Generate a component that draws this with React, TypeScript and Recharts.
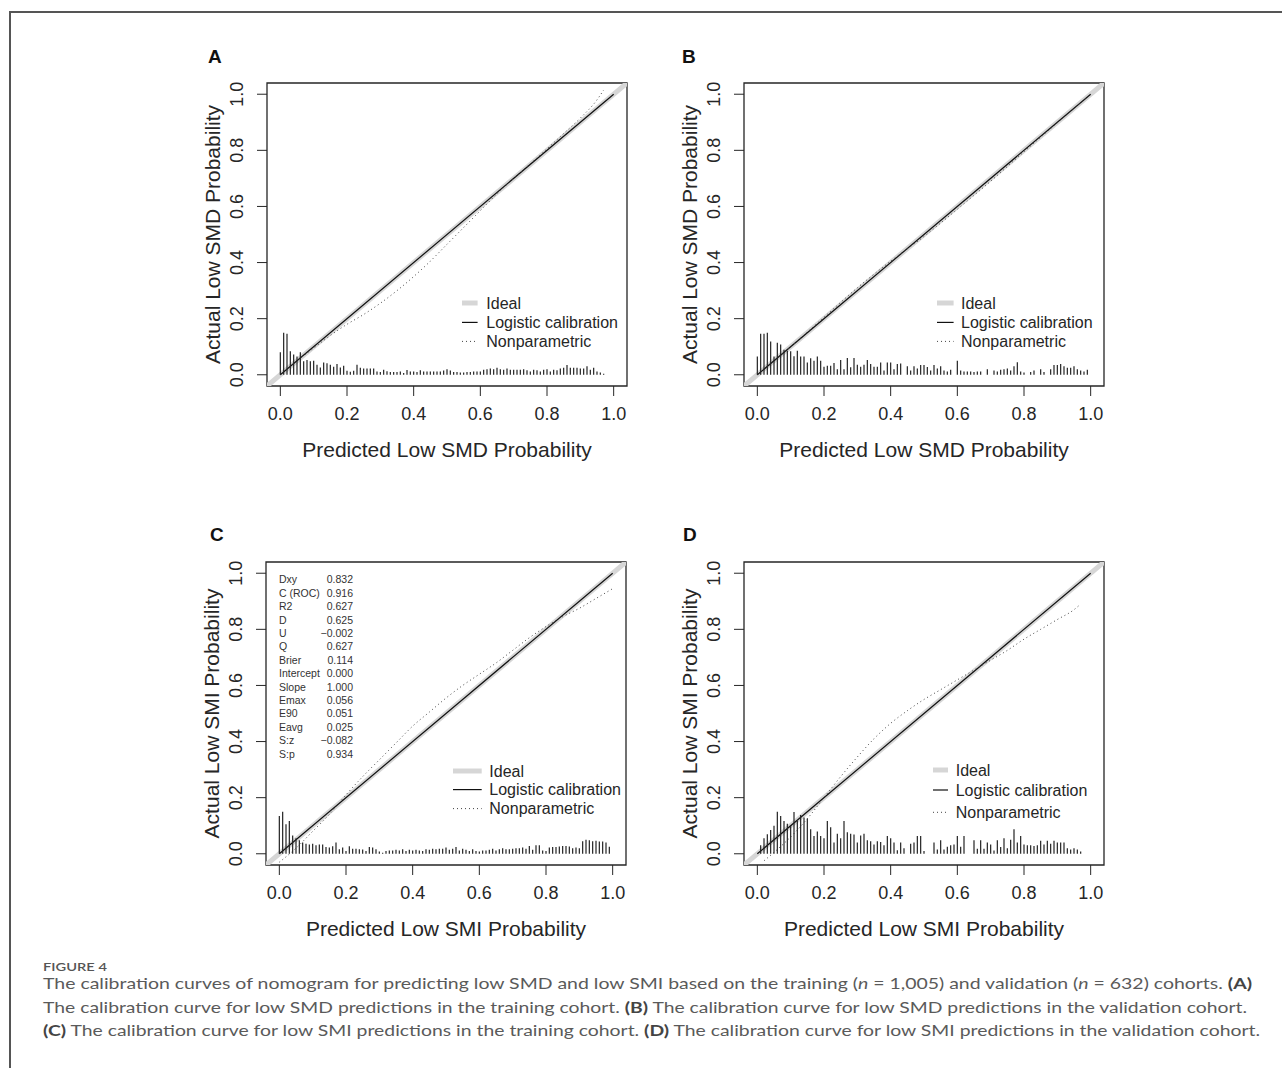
import React from "react";
import {
  ComposedChart,
  Line,
  XAxis,
  YAxis,
  ReferenceLine,
  ReferenceArea,
  Legend,
  Customized,
} from "recharts";

const FONT = "'Liberation Sans', Arial, Helvetica, sans-serif";
const INK = "#262626";

const axisTicks = [0, 0.2, 0.4, 0.6, 0.8, 1.0];
const DOMAIN: [number, number] = [-0.04, 1.04];
const BIN = 0.01; // risk distribution spikes are binned by 0.01

const legendNames = ["Ideal", "Logistic calibration", "Nonparametric"];

// ideal = abline(0, 1) across the whole plot region
const idealLine = [
  { x: -0.04, y: -0.04 },
  { x: 1.04, y: 1.04 },
];
const logisticLine = [
  { x: 0, y: 0 },
  { x: 1, y: 1 },
];

// nonparametric (lowess) curves
const smdTrainX = [0, 0.05, 0.1, 0.15, 0.2, 0.25, 0.3, 0.35, 0.4, 0.45, 0.5, 0.55, 0.6, 0.65, 0.7, 0.75, 0.8, 0.85, 0.9, 0.95, 0.97];
const smdTrainY = [0, 0.05, 0.095, 0.14, 0.18, 0.215, 0.255, 0.3, 0.35, 0.405, 0.465, 0.525, 0.585, 0.645, 0.7, 0.752, 0.805, 0.86, 0.915, 0.98, 1.015];

const smdValidX = [0, 0.1, 0.2, 0.3, 0.4, 0.5, 0.6, 0.7, 0.8, 0.9, 1.0];
const smdValidY = [0, 0.1, 0.205, 0.31, 0.405, 0.493, 0.59, 0.69, 0.795, 0.898, 1.0];

const smiTrainX = [0, 0.05, 0.1, 0.15, 0.2, 0.25, 0.3, 0.35, 0.4, 0.45, 0.5, 0.55, 0.6, 0.65, 0.7, 0.75, 0.8, 0.85, 0.9, 0.95, 1.0];
const smiTrainY = [-0.03, 0.02, 0.08, 0.14, 0.21, 0.275, 0.335, 0.395, 0.455, 0.505, 0.555, 0.6, 0.64, 0.68, 0.725, 0.77, 0.81, 0.845, 0.875, 0.91, 0.945];

const smiValidX = [0.02, 0.05, 0.1, 0.15, 0.2, 0.25, 0.3, 0.35, 0.4, 0.45, 0.5, 0.55, 0.6, 0.65, 0.7, 0.75, 0.8, 0.85, 0.9, 0.95, 0.97];
const smiValidY = [-0.025, 0.005, 0.06, 0.125, 0.2, 0.275, 0.345, 0.41, 0.465, 0.51, 0.55, 0.585, 0.62, 0.655, 0.69, 0.725, 0.765, 0.8, 0.835, 0.87, 0.89];

// spike heights from 0.00 upward in steps of 0.01
const smdTrainHist = [
  0.08, 0.15, 0.146, 0.084, 0.072, 0.065, 0.08, 0.048, 0.053, 0.048,
  0.05, 0.036, 0.026, 0.044, 0.041, 0.036, 0.029, 0.038, 0.026, 0.032,
  0.014, 0.011, 0.014, 0.036, 0.025, 0.022, 0.022, 0.022, 0.022, 0.012,
  0.01, 0.018, 0.013, 0.01, 0.01, 0.01, 0.012, 0.006, 0.017, 0.012,
  0.012, 0.01, 0.016, 0.012, 0.012, 0.012, 0.012, 0.012, 0.012, 0.015,
  0.02, 0.015, 0.01, 0.01, 0.008, 0.008, 0.01, 0.01, 0.012, 0.012,
  0.012, 0.018, 0.02, 0.022, 0.02, 0.025, 0.02, 0.018, 0.022, 0.018,
  0.018, 0.018, 0.018, 0.02, 0.016, 0.012, 0.018, 0.016, 0.012, 0.018,
  0.02, 0.012, 0.018, 0.016, 0.022, 0.025, 0.035, 0.025, 0.025, 0.025,
  0.022, 0.022, 0.03, 0.018, 0.025, 0.012, 0.008, 0.004,
];
const smdValidHist = [
  0.065, 0.146, 0.146, 0.15, 0.119, 0.065, 0.114, 0.108, 0.089, 0.086,
  0.084, 0.066, 0.086, 0.065, 0.065, 0.044, 0.059, 0.05, 0.065, 0.05,
  0.029, 0.032, 0.032, 0.042, 0.02, 0.053, 0.02, 0.06, 0.027, 0.06,
  0.036, 0.029, 0.036, 0.053, 0.038, 0.029, 0.029, 0.044, 0.015, 0.044,
  0.044, 0.02, 0.038, 0.04, 0, 0.03, 0.015, 0.03, 0.022, 0.035,
  0.035, 0.028, 0.015, 0.035, 0.022, 0.03, 0.015, 0.012, 0.018, 0,
  0.05, 0.015, 0.012, 0.012, 0.012, 0.01, 0.012, 0.012, 0, 0.02,
  0, 0.015, 0.012, 0.018, 0.02, 0.022, 0.015, 0.03, 0.045, 0.012,
  0.008, 0, 0.01, 0.015, 0, 0.02, 0.01, 0, 0.02, 0.035,
  0.035, 0.038, 0.03, 0.025, 0.025, 0.03, 0.02, 0.015, 0.012, 0.018,
];
const smiTrainHist = [
  0.135, 0.15, 0.105, 0.117, 0.065, 0.055, 0.048, 0.04, 0.036, 0.033,
  0.036, 0.03, 0.033, 0.033, 0.024, 0.022, 0.027, 0.04, 0.016, 0.022,
  0.01, 0.027, 0.018, 0.018, 0.016, 0.015, 0.01, 0.024, 0.022, 0.016,
  0.008, 0.004, 0.01, 0.012, 0.012, 0.014, 0.012, 0.016, 0.01, 0.014,
  0.012, 0.014, 0.012, 0.01, 0.016, 0.014, 0.018, 0.016, 0.018, 0.018,
  0.022, 0.014, 0.018, 0.024, 0.012, 0.018, 0.014, 0.01, 0.016, 0.01,
  0.008, 0.012, 0.012, 0.014, 0.018, 0.012, 0.016, 0.02, 0.016, 0.016,
  0.018, 0.02, 0.02, 0.022, 0.018, 0.028, 0.014, 0.03, 0.03, 0.012,
  0.01, 0.022, 0.024, 0.024, 0.026, 0.028, 0.028, 0.026, 0.02, 0.022,
  0.02, 0.045, 0.05, 0.048, 0.045, 0.046, 0.044, 0.044, 0.04, 0.025,
];
const smiValidHist = [
  0, 0.03, 0.055, 0.07, 0.085, 0.1, 0.15, 0.135, 0.117, 0.107,
  0.102, 0.149, 0.117, 0.138, 0.129, 0.126, 0.087, 0.063, 0.079, 0.063,
  0.055, 0.117, 0.095, 0.04, 0.071, 0.055, 0.117, 0.077, 0.071, 0.069,
  0.04, 0.065, 0.071, 0.048, 0.045, 0.033, 0.045, 0.042, 0.03, 0.063,
  0.055, 0.04, 0.013, 0.04, 0.02, 0, 0.036, 0.04, 0.063, 0.063,
  0.01, 0, 0, 0.04, 0.015, 0.048, 0.015, 0.025, 0.03, 0.033,
  0.063, 0.025, 0.063, 0, 0, 0.048, 0.018, 0.048, 0.018, 0.04,
  0.033, 0.012, 0.048, 0.024, 0.055, 0.02, 0.05, 0.087, 0.04, 0.063,
  0.033, 0.03, 0.03, 0.028, 0.03, 0.046, 0.033, 0.046, 0.036, 0.046,
  0.04, 0.04, 0.04, 0.02, 0.015, 0.02, 0.015, 0.008,
];

const statNames = ["Dxy", "C (ROC)", "R2", "D", "U", "Q", "Brier", "Intercept", "Slope", "Emax", "E90", "Eavg", "S:z", "S:p"];
const statValues = ["0.832", "0.916", "0.627", "0.625", "\u22120.002", "0.627", "0.114", "0.000", "1.000", "0.056", "0.051", "0.025", "\u22120.082", "0.934"];

const seriesStyle = [
  { stroke: "#d6d6d6", width: 5, dash: undefined as string | undefined },
  { stroke: "#111111", width: 1.2, dash: undefined as string | undefined },
  { stroke: "#444444", width: 1, dash: "1 3" },
];

const fmt = (v: number) => v.toFixed(1);

const YTick = (props: any) => {
  const { x, y, payload } = props;
  return (
    <text
      x={x}
      y={y}
      transform={`rotate(-90, ${x}, ${y})`}
      textAnchor="middle"
      fontSize={18}
      fontFamily={FONT}
      fill={INK}
    >
      {fmt(Number(payload.value))}
    </text>
  );
};

const XTitle = (props: any) => {
  const vb = props.viewBox && props.viewBox.width ? props.viewBox : { x: 87, y: 346, width: 360, height: 94 };
  return (
    <text x={vb.x + vb.width / 2} y={vb.y + 71} textAnchor="middle" fontSize={21} fontFamily={FONT} fill={INK}>
      {props.text}
    </text>
  );
};

const YTitle = (props: any) => {
  const vb = props.viewBox && props.viewBox.height ? props.viewBox : { x: 0, y: 43, width: 87, height: 303 };
  const cx = vb.x + 39.5;
  const cy = vb.y + vb.height / 2;
  return (
    <text x={cx} y={cy} transform={`rotate(-90, ${cx}, ${cy})`} textAnchor="middle" fontSize={21} fontFamily={FONT} fill={INK}>
      {props.text}
    </text>
  );
};

const CalibrationLegend = ({ cfg }: any) => (
  <svg width={200} height={70} style={{ display: "block", overflow: "visible" }}>
    {legendNames.map((name, i) => (
      <g key={name}>
        <line
          x1={0}
          x2={cfg.sample}
          y1={cfg.rows[i]}
          y2={cfg.rows[i]}
          stroke={seriesStyle[i].stroke}
          strokeWidth={seriesStyle[i].width}
          strokeDasharray={seriesStyle[i].dash}
        />
        <text x={cfg.textX} y={cfg.rows[i]} dominantBaseline="central" fontSize={16} fontFamily={FONT} fill={INK}>
          {name}
        </text>
      </g>
    ))}
  </svg>
);

const StatsBlock = () => (
  <g fontFamily={FONT} fontSize={10.5} fill="#333">
    {statNames.map((n, i) => (
      <g key={n}>
        <text x={100} y={64.3 + i * 13.4}>{n}</text>
        <text x={174} y={64.3 + i * 13.4} textAnchor="end">{statValues[i]}</text>
      </g>
    ))}
  </g>
);

const Panel = ({ xTitle, yTitle, hist, npX, npY, legend, stats }: any) => {
  const nonparametric = npX.map((x: number, i: number) => ({ x, y: npY[i] }));
  const spikes = hist
    .map((h: number, i: number) => ({ x: Number((i * BIN).toFixed(2)), h }))
    .filter((s: any) => s.h > 0);
  return (
    <ComposedChart width={460} height={440} margin={{ top: 43, right: 13, bottom: 0, left: 0 }}>
      <XAxis
        type="number"
        dataKey="x"
        domain={DOMAIN}
        ticks={axisTicks}
        interval={0}
        allowDataOverflow
        tickFormatter={fmt}
        axisLine={false}
        tickLine={{ stroke: INK }}
        tickSize={10}
        tickMargin={11}
        height={94}
        tick={{ fontSize: 18, fill: INK, fontFamily: FONT }}
        label={<XTitle text={xTitle} />}
      />
      <YAxis
        type="number"
        dataKey="y"
        domain={DOMAIN}
        ticks={axisTicks}
        interval={0}
        allowDataOverflow
        axisLine={false}
        tickLine={{ stroke: INK }}
        tickSize={10}
        tickMargin={14}
        width={87}
        tick={<YTick />}
        label={<YTitle text={yTitle} />}
      />
      <ReferenceArea x1={-0.04} x2={1.04} y1={-0.04} y2={1.04} fill="none" stroke={INK} strokeWidth={1.3} ifOverflow="visible" />
      <Line name={legendNames[0]} data={idealLine} dataKey="y" stroke={seriesStyle[0].stroke} strokeWidth={5} dot={false} isAnimationActive={false} />
      <Line name={legendNames[1]} data={logisticLine} dataKey="y" stroke={seriesStyle[1].stroke} strokeWidth={1.2} dot={false} isAnimationActive={false} />
      <Line
        name={legendNames[2]}
        data={nonparametric}
        type="monotone"
        dataKey="y"
        stroke={seriesStyle[2].stroke}
        strokeWidth={1}
        strokeDasharray="1 3"
        dot={false}
        isAnimationActive={false}
      />
      {spikes.map((s: any) => (
        <ReferenceLine
          key={s.x}
          segment={[
            { x: s.x, y: 0 },
            { x: s.x, y: s.h },
          ]}
          stroke="#222"
          strokeWidth={1.2}
          ifOverflow="visible"
        />
      ))}
      <Legend
        layout="vertical"
        align="center"
        verticalAlign="middle"
        wrapperStyle={{ left: legend.left, top: legend.top, width: 200 }}
        content={() => <CalibrationLegend cfg={legend} />}
      />
      {stats && <Customized component={<StatsBlock />} />}
    </ComposedChart>
  );
};

const panels = [
  {
    key: "A", left: 180, top: 40,
    xTitle: "Predicted Low SMD Probability", yTitle: "Actual Low SMD Probability",
    hist: smdTrainHist, npX: smdTrainX, npY: smdTrainY,
    legend: { left: 281.7, top: 253.3, rows: [10, 29.4, 48.4], sample: 15.6, textX: 24.3 },
  },
  {
    key: "B", left: 657, top: 40,
    xTitle: "Predicted Low SMD Probability", yTitle: "Actual Low SMD Probability",
    hist: smdValidHist, npX: smdValidX, npY: smdValidY,
    legend: { left: 279.7, top: 253.3, rows: [10, 29.4, 48.4], sample: 16.6, textX: 24 },
  },
  {
    key: "C", left: 179, top: 519, stats: true,
    xTitle: "Predicted Low SMI Probability", yTitle: "Actual Low SMI Probability",
    hist: smiTrainHist, npX: smiTrainX, npY: smiTrainY,
    legend: { left: 274, top: 241.7, rows: [10, 28.6, 47.6], sample: 28.7, textX: 36.3 },
  },
  {
    key: "D", left: 657, top: 519,
    xTitle: "Predicted Low SMI Probability", yTitle: "Actual Low SMI Probability",
    hist: smiValidHist, npX: smiValidX, npY: smiValidY,
    legend: { left: 276.3, top: 241, rows: [10, 30, 52.3], sample: 15, textX: 22.7 },
  },
];

const letters = [
  { t: "A", x: 208, y: 62.7 },
  { t: "B", x: 682, y: 62.7 },
  { t: "C", x: 210, y: 541 },
  { t: "D", x: 683, y: 541 },
];

const CAP_FONT = "Lato, 'Open Sans', sans-serif";
const CAP_INK = "#5a5a5a";

const App = () => {
  return (
    <div style={{ position: "absolute", left: 0, top: 0, width: 1282, height: 1068, background: "#fff", overflow: "hidden" }}>
      <svg width={1282} height={1068} style={{ position: "absolute", left: 0, top: 0 }}>
        <line x1={10} x2={1282} y1={12} y2={12} stroke="#555" strokeWidth={2} />
        <line x1={10} x2={10} y1={11} y2={1068} stroke="#555" strokeWidth={2} />
        {letters.map((l) => (
          <text key={l.t} x={l.x} y={l.y} fontSize={19} fontWeight="bold" fontFamily={FONT} fill="#111">
            {l.t}
          </text>
        ))}
        <text x={43} y={970.7} fontSize={11.5} fontWeight={600} fontFamily={CAP_FONT} fill="#555" textLength={64} lengthAdjust="spacingAndGlyphs">
          FIGURE 4
        </text>
        <g fontFamily={CAP_FONT} fontSize={16} fill={CAP_INK}>
          <text x={43} y={989.3} textLength={1209} lengthAdjust="spacingAndGlyphs">
            The calibration curves of nomogram for predicting low SMD and low SMI based on the training (<tspan fontStyle="italic">n</tspan> = 1,005) and validation (<tspan fontStyle="italic">n</tspan> = 632) cohorts. <tspan fontWeight="bold" fill="#444">(A)</tspan>
          </text>
          <text x={43} y={1012.7} textLength={1204} lengthAdjust="spacingAndGlyphs">
            The calibration curve for low SMD predictions in the training cohort. <tspan fontWeight="bold" fill="#444">(B)</tspan> The calibration curve for low SMD predictions in the validation cohort.
          </text>
          <text x={43} y={1036} textLength={1217} lengthAdjust="spacingAndGlyphs">
            <tspan fontWeight="bold" fill="#444">(C)</tspan> The calibration curve for low SMI predictions in the training cohort. <tspan fontWeight="bold" fill="#444">(D)</tspan> The calibration curve for low SMI predictions in the validation cohort.
          </text>
        </g>
      </svg>
      {panels.map((p) => (
        <div key={p.key} style={{ position: "absolute", left: p.left, top: p.top, width: 460, height: 440 }}>
          <Panel {...p} />
        </div>
      ))}
    </div>
  );
};

export default App;
